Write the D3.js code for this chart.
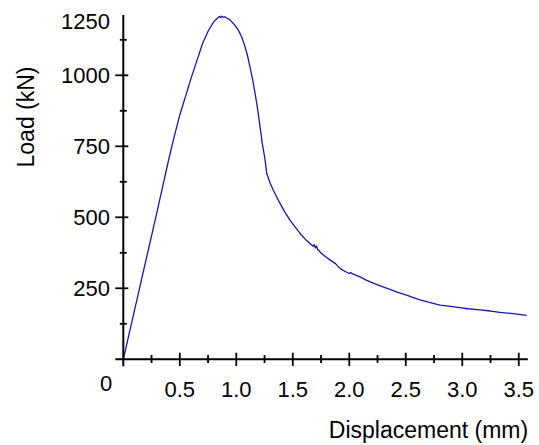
<!DOCTYPE html>
<html>
<head>
<meta charset="utf-8">
<script src="https://cdn.jsdelivr.net/npm/d3@7"></script>
<style>
  html, body { margin: 0; padding: 0; background: #fff; }
  svg { display: block; }
  text { font-family: "Liberation Sans", Arial, Helvetica, sans-serif; fill: #000; }
</style>
</head>
<body>
<svg id="chart" width="539" height="445"></svg>
<script>
// ---- data ----
const displacement = [0, 0.10, 0.20, 0.30, 0.40, 0.45, 0.50, 0.55, 0.60, 0.65, 0.70, 0.75, 0.80, 0.83, 0.85, 0.86, 0.87, 0.88, 0.90, 0.92, 0.944, 0.98, 1.018, 1.05, 1.077, 1.10, 1.121, 1.145, 1.166, 1.19, 1.21, 1.23, 1.254, 1.269, 1.30, 1.327, 1.36, 1.387, 1.43, 1.475, 1.52, 1.563, 1.61, 1.652, 1.68, 1.69, 1.70, 1.71, 1.72, 1.726, 1.75, 1.79, 1.829, 1.88, 1.918, 1.96, 2.00, 2.01, 2.035, 2.095, 2.15, 2.212, 2.28, 2.36, 2.43, 2.508, 2.56, 2.626, 2.70, 2.803, 2.88, 2.98, 3.05, 3.157, 3.25, 3.334, 3.45, 3.57];
const load         = [0, 174, 348, 522, 700, 783, 860, 925, 990, 1050, 1110, 1155, 1188, 1200, 1207, 1203, 1208, 1205, 1206, 1201, 1195, 1180, 1159, 1133, 1101, 1068, 1030, 985, 937, 878, 819, 760, 705, 655, 620, 596, 570, 549, 518, 490, 466, 444, 423, 408, 398, 404, 392, 399, 386, 385, 374, 361, 350, 336, 320, 310, 302, 305, 300, 290, 279, 268, 258, 246, 236, 226, 218, 209, 201, 191, 187, 182, 178, 174, 170, 165, 161, 155];

const xMajorTicks = [0.5, 1.0, 1.5, 2.0, 2.5, 3.0, 3.5];
const xMinorTicks = [0.25, 0.75, 1.25, 1.75, 2.25, 2.75, 3.25];
const yMajorTicks = [250, 500, 750, 1000];
const yMinorTicks = [125, 375, 625, 875, 1125];
const originLabel = "0";
const yTopLabel = "1250";
const xTitle = "Displacement (mm)";
const yTitle = "Load (kN)";

// ---- layout ----
const svg = d3.select("#chart");
const x0 = 123.3, x1 = 527.8;   // pixel extent of x axis
const yBottom = 359.3, yTop = 15;
const x = d3.scaleLinear().domain([0, 3.58]).range([x0, x1]);
const y = d3.scaleLinear().domain([0, 1250]).range([yBottom, 4.3]);
const yAxisTopValue = y.invert(yTop);

const tickFont = 22, titleFont = 23;

// curve
const pts = displacement.map((d, i) => [d, load[i]]);
svg.append("path")
  .datum(pts)
  .attr("fill", "none")
  .attr("stroke", "#1616b2")
  .attr("stroke-width", 1.3)
  .attr("stroke-linejoin", "round")
  .attr("d", d3.line().x(d => x(d[0])).y(d => y(d[1])));

// x axis line
svg.append("line")
  .attr("x1", x0 - 8).attr("x2", x1)
  .attr("y1", yBottom).attr("y2", yBottom)
  .attr("stroke", "#000").attr("stroke-width", 2);

// y axis line
svg.append("line")
  .attr("x1", x(0)).attr("x2", x(0))
  .attr("y1", yBottom + 7).attr("y2", yTop)
  .attr("stroke", "#000").attr("stroke-width", 2);

// x ticks
svg.selectAll(".xmaj").data(xMajorTicks).enter().append("line")
  .attr("x1", d => x(d)).attr("x2", d => x(d))
  .attr("y1", yBottom - 6.6).attr("y2", yBottom + 6.7)
  .attr("stroke", "#000").attr("stroke-width", 1.8);
svg.selectAll(".xmin").data(xMinorTicks).enter().append("line")
  .attr("x1", d => x(d)).attr("x2", d => x(d))
  .attr("y1", yBottom - 4.3).attr("y2", yBottom + 3.7)
  .attr("stroke", "#000").attr("stroke-width", 1.8);
svg.selectAll(".xlab").data(xMajorTicks).enter().append("text")
  .attr("x", d => x(d)).attr("y", 396.5)
  .attr("text-anchor", "middle")
  .style("font-size", tickFont + "px")
  .text(d => d.toFixed(1));

// y ticks
svg.selectAll(".ymaj").data(yMajorTicks).enter().append("line")
  .attr("x1", x(0) - 8).attr("x2", x(0) + 5)
  .attr("y1", d => y(d)).attr("y2", d => y(d))
  .attr("stroke", "#000").attr("stroke-width", 1.8);
svg.selectAll(".ymin").data(yMinorTicks).enter().append("line")
  .attr("x1", x(0) - 3.5).attr("x2", x(0) + 3.5)
  .attr("y1", d => y(d)).attr("y2", d => y(d))
  .attr("stroke", "#000").attr("stroke-width", 1.8);
svg.selectAll(".ylab").data(yMajorTicks).enter().append("text")
  .attr("x", 110).attr("y", d => y(d) + 8)
  .attr("text-anchor", "end")
  .style("font-size", tickFont + "px")
  .text(d => d);
// top label drawn at the axis end
svg.append("text")
  .attr("x", 110).attr("y", y(yAxisTopValue) + 14.3)
  .attr("text-anchor", "end")
  .style("font-size", tickFont + "px")
  .text(yTopLabel);

// origin label
svg.append("text")
  .attr("x", 106).attr("y", 390.7)
  .attr("text-anchor", "middle")
  .style("font-size", tickFont + "px")
  .text(originLabel);

// titles
svg.append("text")
  .attr("x", 428.5).attr("y", 438)
  .attr("text-anchor", "middle")
  .style("font-size", titleFont + "px")
  .text(xTitle);
svg.append("text")
  .attr("transform", "translate(34,117) rotate(-90)")
  .attr("text-anchor", "middle")
  .style("font-size", titleFont + "px")
  .text(yTitle);
</script>
</body>
</html>
